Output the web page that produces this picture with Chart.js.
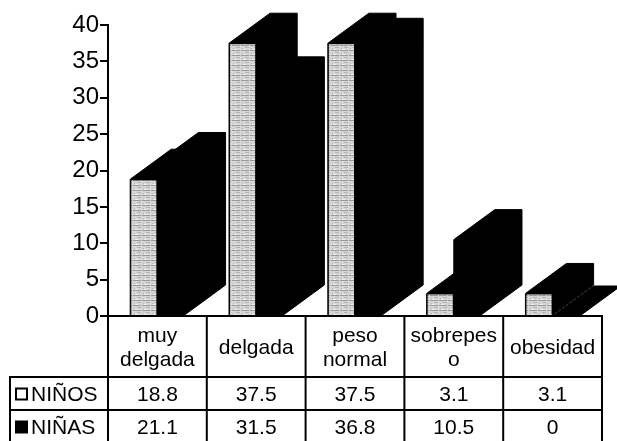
<!DOCTYPE html>
<html>
<head>
<meta charset="utf-8">
<script src="https://cdn.jsdelivr.net/npm/chart.js@4/dist/chart.umd.min.js"></script>
<style>
  html, body { margin: 0; padding: 0; background: #fff; }
  canvas { display: block; }
</style>
</head>
<body>
<canvas id="chart" width="617" height="441"></canvas>
<script>
// Categories (multi-line headers are arrays of lines)
const categories = [["muy", "delgada"], "delgada", ["peso", "normal"], ["sobrepes", "o"], "obesidad"];
const seriesNames = ["NIÑOS", "NIÑAS"];
const ninos = [18.8, 37.5, 37.5, 3.1, 3.1];
const ninas = [21.1, 31.5, 36.8, 10.5, 0];
const yMin = 0;
const yMax = 40;
const yStep = 5;

// Styling
const FONT = "'Liberation Sans', Arial, Helvetica, sans-serif";
const DEPTH = { dx: 41, dy: 30 };           // oblique offset for the 3D look
const TABLE = { header: 61, row: 33, legendLeft: 10, line: 2 };

// Streaky light-grey fill used on the front face of the NIÑOS columns
function makeTexture(ctx) {
  const t = document.createElement('canvas');
  t.width = 9; t.height = 5;
  const c = t.getContext('2d');
  c.fillStyle = '#d6d6d6';
  c.fillRect(0, 0, 9, 5);
  c.fillStyle = '#9a9a9a';
  c.fillRect(0, 0, 6, 1);
  c.fillRect(7, 0, 2, 1);
  c.fillStyle = '#b4b4b4';
  c.fillRect(2, 2, 4, 1);
  c.fillRect(8, 3, 1, 1);
  c.fillStyle = '#eeeeee';
  c.fillRect(0, 4, 3, 1);
  return ctx.createPattern(t, 'repeat');
}

const prismPlugin = {
  id: 'prisms',
  afterDatasetsDraw(chart) {
    const ctx = chart.ctx;
    const texture = makeTexture(ctx);
    const metas = chart.data.datasets.map((_, j) => chart.getDatasetMeta(j));
    const n = chart.data.labels.length;
    const { dx, dy } = DEPTH;
    ctx.save();
    ctx.lineJoin = 'miter';
    for (let i = 0; i < n; i++) {
      metas.forEach((meta, j) => {
        const el = meta.data[i];
        const { x, y, base, width } = el.getProps(['x', 'y', 'base', 'width'], true);
        const x0 = x - width / 2, x1 = x + width / 2;
        // whole silhouette (front + top + right side) in black
        ctx.fillStyle = '#000';
        ctx.strokeStyle = '#000';
        ctx.lineWidth = 1;
        ctx.beginPath();
        ctx.moveTo(x0, base);
        ctx.lineTo(x0, y);
        ctx.lineTo(x0 + dx, y - dy);
        ctx.lineTo(x1 + dx, y - dy);
        ctx.lineTo(x1 + dx, base - dy);
        ctx.lineTo(x1, base);
        ctx.closePath();
        ctx.fill();
        ctx.stroke();
        // textured front face for the first series
        if (j === 0 && base - y > 0) {
          ctx.fillStyle = texture;
          ctx.fillRect(x0 + 1, y + 1, width - 2, base - y - 1);
        }
      });
    }
    ctx.restore();
  }
};

const tablePlugin = {
  id: 'dataTable',
  afterDraw(chart) {
    const ctx = chart.ctx;
    const xs = chart.scales.x;
    const area = chart.chartArea;
    const n = chart.data.labels.length;
    const colW = (area.right - area.left) / n;
    const top = area.bottom;
    const hdrBottom = top + TABLE.header;
    const rowTops = [hdrBottom, hdrBottom + TABLE.row];
    const bottom = hdrBottom + TABLE.row * 2;
    const left = TABLE.legendLeft;

    ctx.save();
    ctx.strokeStyle = '#000';
    ctx.lineWidth = TABLE.line;
    ctx.lineCap = 'square';
    ctx.beginPath();
    // horizontal rules
    ctx.moveTo(area.left, top); ctx.lineTo(area.right, top);
    ctx.moveTo(left, hdrBottom); ctx.lineTo(area.right, hdrBottom);
    ctx.moveTo(left, rowTops[1]); ctx.lineTo(area.right, rowTops[1]);
    ctx.moveTo(left, bottom); ctx.lineTo(area.right, bottom);
    // legend column left edge
    ctx.moveTo(left, hdrBottom); ctx.lineTo(left, bottom);
    // column separators
    for (let i = 0; i <= n; i++) {
      const xb = (i < n ? xs.getPixelForValue(i) - colW / 2 : xs.getPixelForValue(n - 1) + colW / 2);
      ctx.moveTo(xb, top); ctx.lineTo(xb, bottom);
    }
    ctx.stroke();

    ctx.fillStyle = '#000';
    ctx.font = '21px ' + FONT;
    ctx.textAlign = 'center';
    ctx.textBaseline = 'alphabetic';
    const hdrMid = (top + hdrBottom) / 2;
    chart.data.labels.forEach((lab, i) => {
      const cx = xs.getPixelForValue(i);
      const lines = Array.isArray(lab) ? lab : [lab];
      if (lines.length === 1) {
        ctx.fillText(lines[0], cx, hdrMid + 7);
      } else {
        ctx.fillText(lines[0], cx, hdrMid - 5);
        ctx.fillText(lines[1], cx, hdrMid + 19);
      }
    });

    chart.data.datasets.forEach((ds, j) => {
      const rMid = rowTops[j] + TABLE.row / 2;
      ctx.textAlign = 'center';
      ds.data.forEach((v, i) => {
        ctx.fillText(String(v), xs.getPixelForValue(i), rMid + 7);
      });
      // legend key + series name
      const kx = left + 5, ky = rMid - 6, ks = 13;
      if (j === 0) {
        ctx.fillStyle = '#fff';
        ctx.fillRect(kx, ky, ks, ks);
        ctx.strokeStyle = '#000';
        ctx.lineWidth = 2;
        ctx.strokeRect(kx + 1, ky + 1, ks - 2, ks - 2);
      } else {
        ctx.fillStyle = '#000';
        ctx.fillRect(kx, ky, ks, ks);
      }
      ctx.fillStyle = '#000';
      ctx.textAlign = 'left';
      ctx.fillText(ds.label, kx + ks + 3, rMid + 7);
    });
    ctx.restore();
  }
};

new Chart(document.getElementById('chart'), {
  type: 'bar',
  data: {
    labels: categories,
    datasets: [
      { label: seriesNames[0], data: ninos, backgroundColor: 'rgba(0,0,0,0)', borderWidth: 0 },
      { label: seriesNames[1], data: ninas, backgroundColor: 'rgba(0,0,0,0)', borderWidth: 0 }
    ]
  },
  options: {
    responsive: false,
    animation: false,
    devicePixelRatio: 1,
    layout: { padding: { top: 25, right: 15, bottom: 125, left: 0 } },
    datasets: { bar: { categoryPercentage: 0.55, barPercentage: 1 } },
    plugins: { legend: { display: false }, tooltip: { enabled: false } },
    scales: {
      x: { display: false },
      y: {
        min: yMin,
        max: yMax,
        afterFit(scale) { scale.width = 108; },
        ticks: {
          stepSize: yStep,
          color: '#000',
          padding: 1,
          font: { family: FONT, size: 24 }
        },
        grid: { drawOnChartArea: false, drawTicks: true, tickLength: 8, color: '#000', lineWidth: 2 },
        border: { display: true, color: '#000', width: 2 }
      }
    }
  },
  plugins: [prismPlugin, tablePlugin]
});
</script>
</body>
</html>
